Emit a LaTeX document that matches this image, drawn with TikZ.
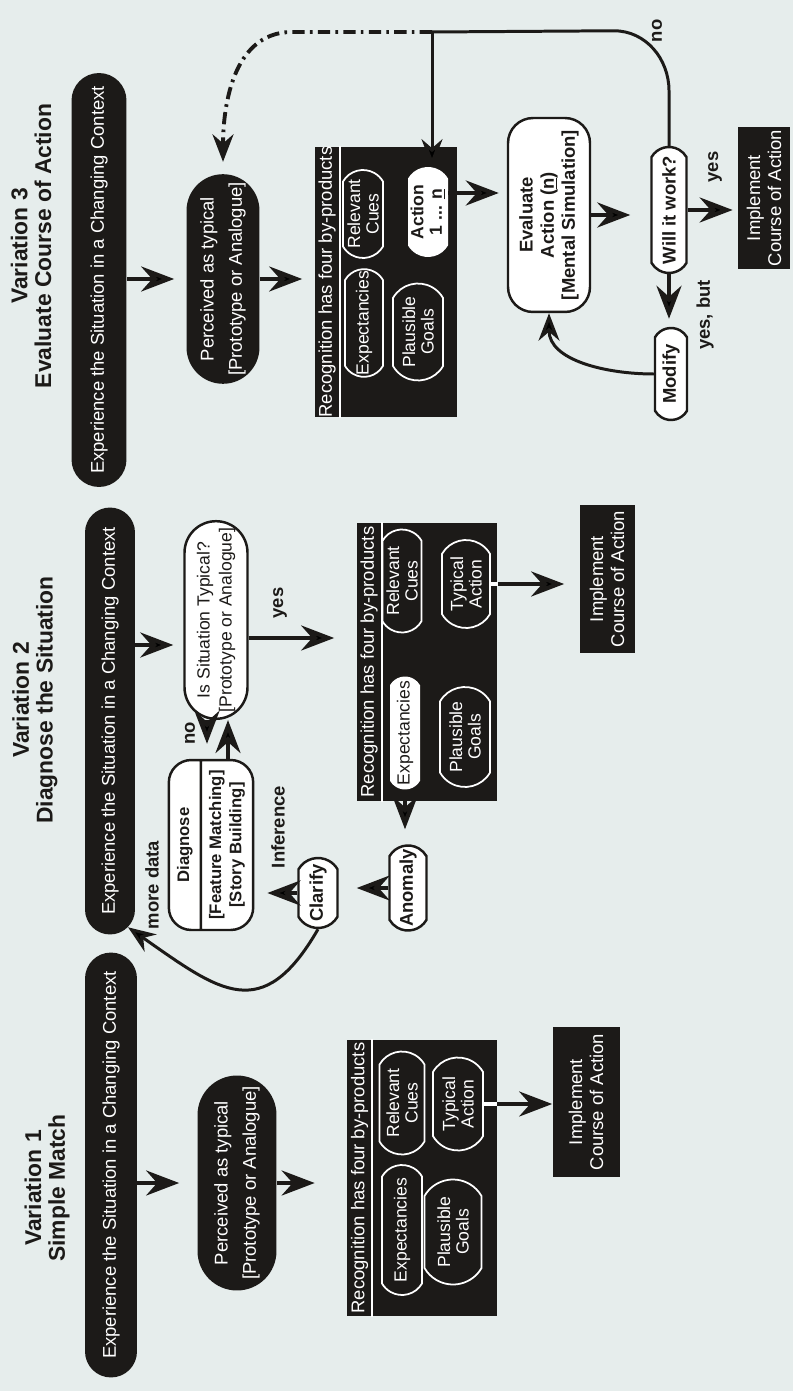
\documentclass[tikz,border=0pt]{standalone}
\usepackage{xcolor}
\usepackage{fontspec}
\setmainfont{Liberation Sans}
\usepackage{tikz}
\usetikzlibrary{shapes.misc,shapes.multipart,arrows.meta,calc}
\definecolor{paper}{RGB}{230,237,236}
\definecolor{ink}{RGB}{28,26,24}

\tikzset{
  txt/.style={font=\fontsize{10.5}{12}\selectfont, align=center, inner sep=0pt},
  blackpill/.style={txt, rounded rectangle, fill=ink, text=white},
  whitepill/.style={txt, rounded rectangle, rounded rectangle arc length=120, draw=ink, line width=1.4pt, fill=white, text=ink, font=\fontsize{10.5}{12}\selectfont\bfseries},
  wbox/.style={txt, rectangle, rounded corners=0.5cm, draw=ink, line width=1.4pt, fill=white, text=ink, font=\fontsize{10.5}{12}\selectfont\bfseries},
  recbox/.style={rectangle, fill=ink, inner sep=0pt},
  rechead/.style={txt, anchor=north, minimum height=0.5cm, text=white},
  cue/.style={txt, rounded rectangle, rounded rectangle arc length=120, draw=white, line width=1pt, text=white, font=\fontsize{10}{10.5}\selectfont},
  wcue/.style={txt, rounded rectangle, rounded rectangle arc length=120, fill=white, text=ink, font=\fontsize{10}{10.5}\selectfont},
  implbox/.style={txt, rectangle, fill=ink, text=white},
  vartitle/.style={txt, text=ink, font=\fontsize{13}{13.5}\selectfont\bfseries},
  lbl/.style={txt, text=ink, font=\fontsize{10.5}{12}\selectfont\bfseries},
  arr/.style={draw=ink, line width=2.4pt, -{Stealth[length=0.66cm, width=0.5cm, inset=0.22cm]}},
  thinarr/.style={draw=ink, line width=1.7pt, -{Stealth[length=0.55cm, width=0.42cm, inset=0.18cm]}},
}

\begin{document}
\begin{tikzpicture}[rotate=90, transform shape, x=0.02cm, y=0.02cm]
    % page
    \fill[paper] (-1391,-793) rectangle (0,0);

    % Variation 1
    \node[vartitle] (title1) at (-1188,-47) {Variation 1\\Simple Match};
    \node[blackpill, minimum width=8.5cm, minimum height=1.04cm] (exp1) at (-1165,-111) {Experience the Situation in a Changing Context};
    \node[blackpill, minimum width=4.3cm, minimum height=1.58cm, font=\fontsize{10.5}{16}\selectfont] (perc1) at (-1183,-237) {Perceived as typical\\{[Prototype or Analogue]}};
    \node[recbox, minimum width=5.54cm, minimum height=3.0cm] (rec1) at (-1178,-422) {};
    \node[rechead, minimum width=5.54cm] (head1) at (rec1.north) {Recognition has four by-products};
    \draw[white, line width=1pt] (head1.south west) -- (head1.south east);
    \node[cue, minimum width=2.06cm, minimum height=0.9cm] (cues1) at (-1103,-402) {Relevant\\Cues};
    \node[cue, minimum width=1.86cm, minimum height=1.0cm] (act1) at (-1104,-458) {Typical\\Action};
    \node[cue, minimum width=2.6cm, minimum height=0.8cm] (expect1) at (-1230,-402) {Expectancies};
    \node[cue, minimum width=2.1cm, minimum height=1.14cm] (goals1) at (-1232,-453) {Plausible\\Goals};
    \node[implbox, minimum width=3.0cm, minimum height=1.34cm] (impl1) at (-1102,-586) {Implement\\Course of Action};
    \draw[arr, shorten >=0.36cm] (exp1.south -| perc1.north) -- (perc1.north);
    \draw[arr, shorten >=0.64cm] (perc1.south) -- (perc1.south |- rec1.north);
    \draw[white, line width=2.4pt] (act1.south) -- (act1.south |- rec1.south);
    \draw[arr] (act1.south |- rec1.south) -- (act1.south |- impl1.north);

    % Variation 2
    \node[vartitle] (title2) at (-700,-35) {Variation 2\\Diagnose the Situation};
    \node[blackpill, minimum width=8.54cm, minimum height=1.0cm] (exp2) at (-721,-110) {Experience the Situation in a Changing Context};
    \node[whitepill, rounded rectangle arc length=180, minimum width=3.9cm, minimum height=1.26cm, font=\fontsize{10}{12.5}\selectfont] (typ2) at (-620,-216) {Is Situation Typical?\\{[Prototype or Analogue]}};
    \node[wbox, rectangle split, rectangle split parts=2, rounded corners=0.45cm, inner ysep=0.14cm, minimum width=3.4cm, font=\fontsize{9.5}{11.5}\selectfont\bfseries] (diag2) at (-845,-211) {Diagnose\nodepart{two}{[Feature Matching]}\\{[Story Building]}};
    \node[recbox, minimum width=5.58cm, minimum height=2.82cm] (rec2) at (-662,-427) {};
    \node[rechead, minimum width=5.58cm] (head2) at (rec2.north) {Recognition has four by-products};
    \draw[white, line width=1pt] (head2.south west) -- (head2.south east);
    \node[cue, minimum width=2.06cm, minimum height=0.78cm] (cues2) at (-581,-402) {Relevant\\Cues};
    \node[cue, minimum width=1.76cm, minimum height=0.96cm] (act2) at (-584,-466) {Typical\\Action};
    \node[wcue, minimum width=2.26cm, minimum height=0.6cm] (expect2) at (-733,-405) {Expectancies};
    \node[cue, minimum width=2.0cm, minimum height=1.0cm] (goals2) at (-737,-465) {Plausible\\Goals};
    \node[implbox, minimum width=2.96cm, minimum height=1.1cm] (impl2) at (-579,-607) {Implement\\Course of Action};
    \node[whitepill, minimum width=1.7cm, minimum height=0.74cm] (anomaly2) at (-888,-408) {Anomaly};
    \node[whitepill, minimum width=1.4cm, minimum height=0.78cm] (clarify2) at (-893,-318) {Clarify};
    \node[lbl] (yes2) at (-603,-280) {yes};
    \node[lbl] (no2) at (-733,-190) {no};
    \node[lbl] (infer2) at (-827,-278) {Inference};
    \node[lbl] (more2) at (-885,-152) {more data};
    \coordinate (in2) at ($(typ2.north)+(-25,0)$);
    \coordinate (y2) at ($(typ2.south)+(-18,0)$);
    \coordinate (n2) at ($(typ2.west)+(0,9)$);
    \coordinate (b2) at ($(typ2.west)+(0,-12)$);
    \draw[arr, shorten >=0.2cm] (in2 |- exp2.south) -- (in2);
    \draw[arr, shorten >=0.44cm] (y2) -- (y2 |- rec2.north);
    \draw[arr, shorten >=0.3cm] (n2) -- (n2 -| diag2.east);
    \draw[arr] (b2 -| diag2.east) -- (b2);
    \draw[white, line width=2.4pt] (act2.south) -- (act2.south |- rec2.south);
    \draw[arr, shorten >=0.3cm] (act2.south |- rec2.south) -- (act2.south |- impl2.north);
    \draw[arr, shorten >=0.3cm] (expect2.west) -- (expect2.west -| anomaly2.east);
    \draw[arr, shorten >=0.36cm] (anomaly2.north) -- (anomaly2.north |- clarify2.south);
    \draw[arr, shorten >=0.26cm] (clarify2.north) -- (clarify2.north |- diag2.south);
    \draw[thinarr] (clarify2.west) to[out=150, in=-125, looseness=1.5] (exp2.185);

    % Variation 3
    \node[vartitle] (title3) at (-246,-31) {Variation 3\\Evaluate Course of Action};
    \node[blackpill, minimum width=8.28cm, minimum height=1.1cm] (exp3) at (-280,-99) {Experience the Situation in a Changing Context};
    \node[blackpill, minimum width=3.9cm, minimum height=1.46cm, font=\fontsize{10.5}{16}\selectfont] (perc3) at (-279,-223) {Perceived as typical\\{[Prototype or Analogue]}};
    \node[recbox, minimum width=5.4cm, minimum height=2.86cm] (rec3) at (-282,-386) {};
    \node[rechead, minimum width=5.4cm] (head3) at (rec3.north) {Recognition has four by-products};
    \draw[white, line width=1pt] (head3.south west) -- (head3.south east);
    \node[cue, minimum width=1.76cm, minimum height=0.8cm] (cues3) at (-214,-363) {Relevant\\Cues};
    \node[cue, minimum width=2.14cm, minimum height=0.76cm] (expect3) at (-323,-364) {Expectancies};
    \node[wcue, minimum width=1.8cm, minimum height=0.8cm, font=\fontsize{10}{10.5}\selectfont\bfseries] (action3) at (-212,-428) {Action\\1 ... \underline{n}};
    \node[cue, minimum width=1.94cm, minimum height=1.0cm] (goals3) at (-332,-418) {Plausible\\Goals};
    \node[wbox, minimum width=3.88cm, minimum height=1.64cm] (eval3) at (-215,-549) {Evaluate\\Action (\underline{n})\\{[Mental Simulation]}};
    \node[whitepill, minimum width=2.52cm, minimum height=0.7cm] (will3) at (-210,-669) {Will it work?};
    \node[implbox, minimum width=2.86cm, minimum height=1.04cm] (impl3) at (-198,-764) {Implement\\Course of Action};
    \node[whitepill, minimum width=1.84cm, minimum height=0.64cm] (modify3) at (-374,-671) {Modify};
    \node[lbl] (yes3) at (-167,-715) {yes};
    \node[lbl] (yesbut3) at (-315,-705) {yes, but};
    \node[lbl] (no3) at (-31,-657) {no};
    \coordinate (a3) at ($(action3.south)+(19,0)$);
    \coordinate (jn) at (-32,-432);
    \draw[arr, shorten >=0.24cm] (exp3.south -| perc3.north) -- (perc3.north);
    \draw[arr, shorten >=0.24cm] (perc3.south) -- (perc3.south |- rec3.north);
    \draw[arr, shorten >=0.16cm] (a3) -- (a3 |- eval3.north);
    \draw[arr, shorten >=0.4cm] (eval3.south) -- (eval3.south |- will3.north);
    \draw[arr, shorten >=0.1cm] (will3.south) -- (will3.south |- impl3.north);
    \draw[arr, shorten >=0.16cm] (will3.west) -- (will3.west -| modify3.east);
    \draw[thinarr] (modify3.north) to[out=90, in=180] (eval3.west);
    \draw[ink, line width=1.7pt] (will3.east) -- ++(55,0) to[out=0, in=-90] ++(60,55) -- (jn);
    \draw[thinarr] (jn) -- (jn -| action3.east);
    \draw[ink, line width=2.2pt, dash pattern=on 7pt off 3pt on 1.5pt off 3pt, -{Stealth[length=0.55cm, width=0.42cm, inset=0.18cm]}, shorten >=0.24cm] (jn) -- ++(0,140) to[out=90, in=0] (perc3.east);
\end{tikzpicture}
\end{document}
